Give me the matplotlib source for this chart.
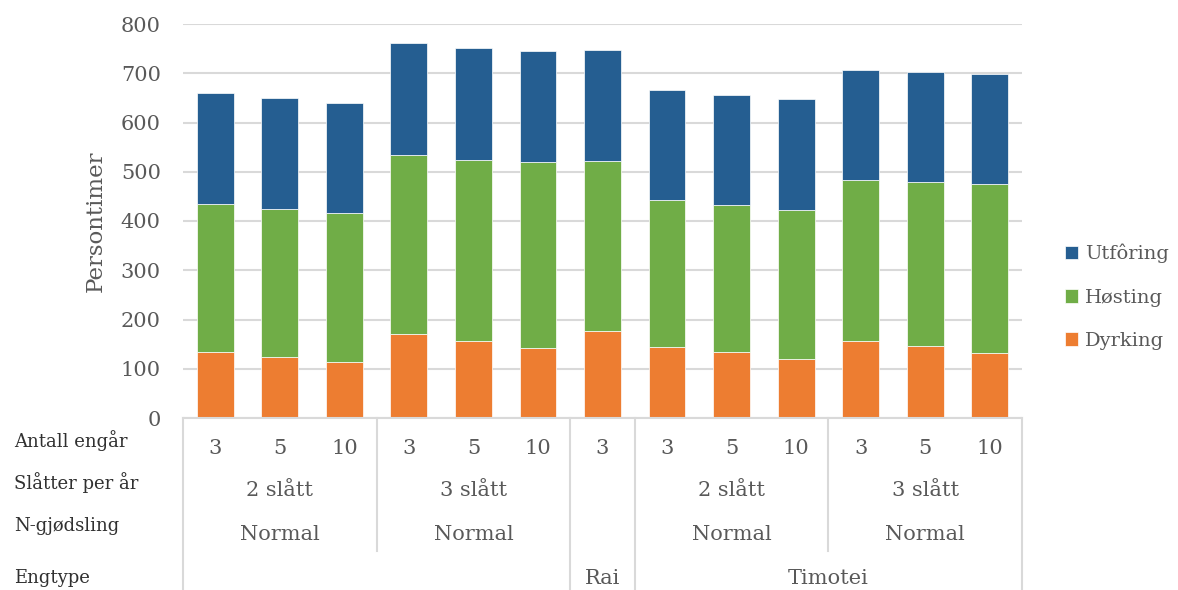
import matplotlib
matplotlib.use('Agg')
import matplotlib.pyplot as plt
import matplotlib.transforms as mtransforms
import numpy as np

# values (persontimer)
dyrking = [135, 124, 114, 171, 156, 142, 176, 145, 133, 120, 157, 146, 132]
hosting = [300, 301, 302, 363, 368, 377, 346, 297, 300, 303, 327, 334, 343]
utforing = [225, 225, 224, 227, 227, 226, 225, 223, 223, 224, 223, 223, 223]

# category levels, lowest first
antall = ['3', '5', '10', '3', '5', '10', '3', '3', '5', '10', '3', '5', '10']
slatter = ['2 slått'] * 3 + ['3 slått'] * 3 + [''] + ['2 slått'] * 3 + ['3 slått'] * 3
gjodsling = ['Normal'] * 6 + [''] + ['Normal'] * 6
engtype = [''] * 6 + ['Rai'] + ['Timotei'] * 6
level_names = ['Antall engår', 'Slåtter per år', 'N-gjødsling', 'Engtype']

series_names = ['Dyrking', 'Høsting', 'Utfôring']
colors = ['#ed7d31', '#70ad47', '#255e91']
text_col = '#595959'
grid_col = '#d9d9d9'

plt.rcParams['font.family'] = ['DejaVu Serif']

W, H = 1178, 590
fig = plt.figure(figsize=(W / 100, H / 100), dpi=100)
ax = fig.add_axes([183 / W, 1 - 418 / H, (1022 - 183) / W, (418 - 24) / H])

x = np.arange(len(antall))
bottom = np.zeros(len(x))
bars = []
for vals, name, c in zip([dyrking, hosting, utforing], series_names, colors):
    b = ax.bar(x, vals, 0.57, bottom=bottom, color=c, label=name,
               edgecolor='white', linewidth=0.5)
    bars.append(b)
    bottom += np.array(vals)

ax.set_xlim(-0.5, len(x) - 0.5)
ax.set_ylim(0, 800)
ax.set_yticks(range(0, 801, 100))
ax.tick_params(axis='y', length=0, labelsize=15, labelcolor=text_col, pad=16)
ax.set_xticks([])
ax.yaxis.grid(True, color=grid_col, linewidth=1.5)
ax.set_axisbelow(True)
for s in ['top', 'right', 'left']:
    ax.spines[s].set_visible(False)
ax.spines['bottom'].set_color(grid_col)
ax.spines['bottom'].set_linewidth(1.5)
ax.set_ylabel('Persontimer', fontsize=16.5, color=text_col, labelpad=10)

# multi level category axis
tr = mtransforms.blended_transform_factory(ax.transData, fig.transFigure)
def fy(py):
    return 1 - py / H

row_y = [449, 491, 534, 578]
row_bottom = [470, 513, 551, 590]
levels = [antall, slatter, gjodsling, engtype]

def key(i, k):
    # group key of bar i at level k
    if k == 3:
        return (engtype[i],)
    return tuple(levels[j][i] for j in range(1, 4))

for k in range(4):
    lab = levels[k]
    start = 0
    for i in range(1, len(x) + 1):
        if k == 0 or i == len(x) or key(i, k) != key(start, k):
            if k == 0:
                start = i - 1
            txt = lab[start]
            if txt:
                ax.text((start + i - 1) / 2, fy(row_y[k]), txt, transform=tr,
                        ha='center', va='center', fontsize=15, color=text_col)
            start = i
    fig.text(14 / W, fy(row_y[k] - 8 if k < 3 else row_y[k]), level_names[k],
             ha='left', va='center', fontsize=13, color='#303030')

# separator lines between groups
for i in range(len(x) + 1):
    depth = None
    if i == 0 or i == len(x):
        depth = 3
    else:
        for k in range(3, 0, -1):
            if key(i, k) != key(i - 1, k):
                depth = k
                break
    if depth is None:
        continue
    ax.plot([i - 0.5, i - 0.5], [fy(418), fy(row_bottom[depth])], transform=tr,
            color=grid_col, linewidth=1.5, clip_on=False)

handles = [bars[2], bars[1], bars[0]]
fig.legend(handles, [series_names[2], series_names[1], series_names[0]],
           loc='center left', bbox_to_anchor=(1059 / W, fy(297)), frameon=False,
           fontsize=14, labelcolor=text_col, handlelength=0.7, handleheight=0.7,
           handletextpad=0.35, labelspacing=1.3, borderaxespad=0, borderpad=0.3)

fig.savefig('out.png', dpi=100)
